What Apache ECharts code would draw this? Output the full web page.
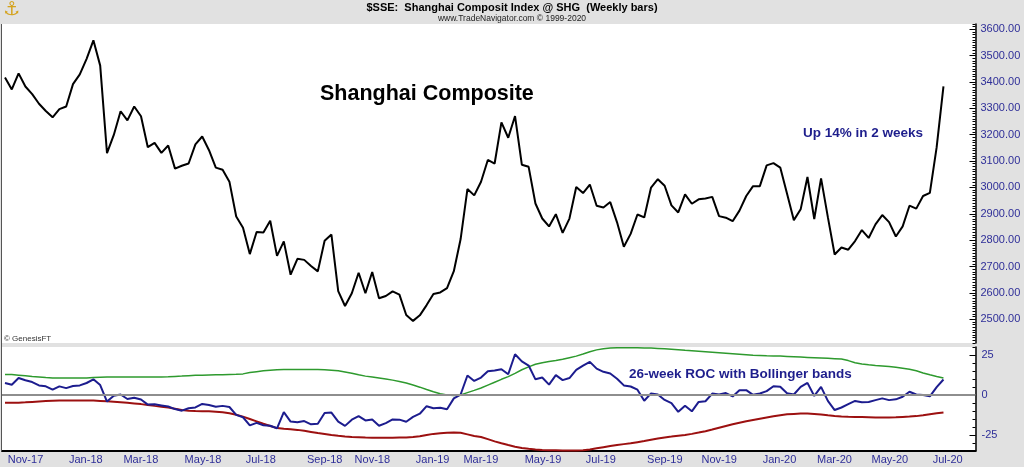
<!DOCTYPE html>
<html><head><meta charset="utf-8">
<script src="https://cdn.jsdelivr.net/npm/echarts@6/dist/echarts.min.js"></script>
<style>html,body{margin:0;padding:0;background:#e1e1e1;}#c{width:1024px;height:467px;}</style>
</head><body><div id="c"></div>
<script>
const weeks = ['2017-10-27','2017-11-03','2017-11-10','2017-11-17','2017-11-24','2017-12-01','2017-12-08','2017-12-15','2017-12-22','2017-12-29',
'2018-01-05','2018-01-12','2018-01-19','2018-01-26','2018-02-02','2018-02-09','2018-02-16','2018-02-23','2018-03-02','2018-03-09',
'2018-03-16','2018-03-23','2018-03-30','2018-04-06','2018-04-13','2018-04-20','2018-04-27','2018-05-04','2018-05-11','2018-05-18',
'2018-05-25','2018-06-01','2018-06-08','2018-06-15','2018-06-22','2018-06-29','2018-07-06','2018-07-13','2018-07-20','2018-07-27',
'2018-08-03','2018-08-10','2018-08-17','2018-08-24','2018-08-31','2018-09-07','2018-09-14','2018-09-21','2018-09-28','2018-10-12',
'2018-10-19','2018-10-26','2018-11-02','2018-11-09','2018-11-16','2018-11-23','2018-11-30','2018-12-07','2018-12-14','2018-12-21',
'2018-12-28','2019-01-04','2019-01-11','2019-01-18','2019-01-25','2019-02-01','2019-02-15','2019-02-22','2019-03-01','2019-03-08',
'2019-03-15','2019-03-22','2019-03-29','2019-04-05','2019-04-12','2019-04-19','2019-04-26','2019-05-03','2019-05-10','2019-05-17',
'2019-05-24','2019-05-31','2019-06-07','2019-06-14','2019-06-21','2019-06-28','2019-07-05','2019-07-12','2019-07-19','2019-07-26',
'2019-08-02','2019-08-09','2019-08-16','2019-08-23','2019-08-30','2019-09-06','2019-09-13','2019-09-20','2019-09-27','2019-10-04',
'2019-10-11','2019-10-18','2019-10-25','2019-11-01','2019-11-08','2019-11-15','2019-11-22','2019-11-29','2019-12-06','2019-12-13',
'2019-12-20','2019-12-27','2020-01-03','2020-01-10','2020-01-17','2020-01-24','2020-02-07','2020-02-14','2020-02-21','2020-02-28',
'2020-03-06','2020-03-13','2020-03-20','2020-03-27','2020-04-03','2020-04-10','2020-04-17','2020-04-24','2020-05-01','2020-05-08',
'2020-05-15','2020-05-22','2020-05-29','2020-06-05','2020-06-12','2020-06-19','2020-06-26','2020-07-03','2020-07-10'];

const closes = [3416.8,3371.7,3432.7,3382.9,3353.8,3317.6,3289.9,3266.1,3297.1,3307.2,
3391.8,3428.9,3487.9,3558.1,3462.1,3129.9,3199.2,3289.0,3254.5,3307.2,
3269.9,3152.8,3168.9,3131.1,3159.1,3071.5,3082.2,3091.0,3163.3,3193.3,
3141.3,3075.1,3067.1,3021.9,2889.8,2847.4,2747.2,2831.2,2829.3,2873.6,
2740.4,2795.3,2669.0,2729.4,2725.3,2702.3,2681.6,2797.5,2821.4,2606.9,
2550.5,2598.9,2676.5,2598.9,2679.1,2579.5,2588.2,2605.9,2593.7,2516.3,
2493.9,2514.9,2553.8,2596.0,2601.7,2618.2,2682.4,2804.2,2994.0,2969.9,
3021.8,3104.2,3090.8,3246.6,3188.6,3270.8,3086.4,3078.3,2939.2,2882.3,
2852.0,2898.7,2827.8,2882.0,3002.0,2978.9,3011.1,2930.6,2924.2,2944.5,
2867.8,2774.8,2823.8,2897.4,2886.2,2999.6,3031.2,3006.5,2932.2,2905.2,
2973.7,2938.1,2954.9,2958.2,2964.2,2891.3,2885.3,2872.0,2912.0,2967.7,
3004.9,3005.0,3083.8,3092.3,3075.5,2976.5,2876.0,2917.0,3039.7,2880.3,
3034.5,2887.4,2745.6,2772.2,2764.0,2796.6,2838.5,2808.5,2860.1,2895.3,
2868.5,2813.8,2852.4,2930.8,2919.7,2967.6,2979.6,3152.8,3383.3];

const roc = [7.5,6.4,10.6,9.2,8.1,6.0,5.4,3.3,5.4,4.3,
5.6,6.0,7.5,9.8,6.2,-4.1,-0.5,0.3,-2.5,-1.7,
-2.8,-6.0,-5.8,-6.5,-7.2,-8.8,-9.8,-8.3,-7.8,-5.6,
-6.3,-7.3,-6.8,-7.5,-12.4,-13.9,-19.0,-17.4,-18.9,-19.2,
-20.8,-10.7,-16.6,-17.0,-16.3,-18.3,-18.0,-11.3,-11.0,-16.7,
-19.3,-15.4,-13.2,-15.9,-15.3,-19.2,-17.6,-15.3,-15.4,-16.7,
-13.7,-11.7,-7.0,-8.3,-8.0,-8.9,-2.1,0.3,12.2,8.8,
10.9,14.9,15.3,16.1,13.0,25.5,21.0,18.4,9.8,10.9,
6.5,12.4,9.3,10.6,15.7,18.4,20.7,16.5,14.5,13.4,
10.2,6.0,5.3,3.3,-3.6,1.0,0.3,-3.1,-5.1,-10.5,
-6.7,-10.2,-4.3,-3.9,0.9,0.3,1.2,-0.9,3.0,3.0,
0.1,0.9,2.4,5.5,5.2,1.1,0.3,5.1,7.6,-0.6,
5.1,-3.7,-9.4,-7.8,-5.7,-3.7,-4.5,-4.4,-3.2,-2.1,
-3.2,-2.7,-1.1,2.0,0.3,0.0,-0.8,4.9,9.7];

const upperBand = [12.8,12.8,12.4,12.0,11.5,11.2,10.9,10.7,10.6,10.6,
10.6,10.6,10.7,10.9,11.1,11.3,11.3,11.3,11.3,11.3,
11.3,11.3,11.3,11.3,11.4,11.6,11.8,12.1,12.3,12.4,
12.5,12.6,12.7,12.8,12.9,13.2,14.0,14.6,15.1,15.5,
15.8,15.9,15.9,15.9,15.9,15.9,15.9,15.8,15.5,15.1,
14.4,13.6,12.6,11.8,11.2,10.6,10.0,9.3,8.5,7.5,
6.2,4.9,3.4,2.0,0.8,0.0,-0.3,0.1,1.5,2.9,
4.4,6.2,8.0,9.8,11.5,13.5,15.8,17.6,19.2,20.2,
20.9,21.5,22.3,23.3,24.3,25.6,27.0,28.2,28.9,29.3,
29.5,29.6,29.6,29.5,29.4,29.3,29.1,28.9,28.6,28.3,
27.9,27.6,27.3,27.0,26.7,26.4,26.1,25.8,25.5,25.2,
24.9,24.7,24.5,24.4,24.3,24.1,23.9,23.7,23.5,23.3,
23.1,22.9,22.7,22.5,21.5,20.2,19.4,18.9,18.5,18.2,
17.8,17.3,16.7,16.1,15.2,13.8,12.6,11.5,10.6];

const lowerBand = [-4.9,-4.9,-4.8,-4.6,-4.3,-4.0,-3.8,-3.6,-3.5,-3.5,
-3.5,-3.5,-3.5,-3.5,-3.7,-3.9,-4.2,-4.5,-4.9,-5.3,
-5.7,-6.2,-6.8,-7.3,-7.8,-8.6,-9.4,-9.8,-10.0,-10.1,
-10.2,-10.4,-10.8,-11.4,-12.3,-13.5,-15.0,-16.5,-18.0,-19.4,
-20.7,-21.1,-21.4,-21.8,-22.4,-23.1,-23.8,-24.4,-25.0,-25.5,
-25.9,-26.2,-26.4,-26.6,-26.7,-26.7,-26.7,-26.7,-26.6,-26.5,
-26.3,-25.8,-25.0,-24.3,-23.9,-23.6,-23.4,-23.6,-24.6,-25.6,
-26.3,-27.6,-29.0,-30.2,-31.3,-32.3,-33.1,-33.6,-34.0,-34.3,
-34.5,-34.6,-34.7,-34.7,-34.7,-34.5,-34.0,-33.3,-32.6,-31.9,
-31.3,-30.7,-30.2,-29.5,-28.8,-28.0,-27.2,-26.5,-26.0,-25.4,
-25.0,-24.3,-23.5,-22.6,-21.6,-20.5,-19.4,-18.3,-17.3,-16.4,
-15.6,-14.8,-14.0,-13.3,-12.6,-12.1,-11.8,-11.6,-11.6,-11.8,
-12.2,-12.7,-13.1,-13.4,-13.6,-13.7,-13.8,-13.9,-14.0,-14.0,
-14.0,-13.9,-13.7,-13.5,-13.2,-12.7,-12.0,-11.4,-10.9];

const MONTHS = ['Jan','Feb','Mar','Apr','May','Jun','Jul','Aug','Sep','Oct','Nov','Dec'];

const labelIdx = [];
weeks.forEach((d, i) => {
  if (i === 0) return;
  const m = +d.slice(5, 7), pm = +weeks[i - 1].slice(5, 7);
  if (m !== pm && m % 2 === 1) labelIdx.push(i);
});
function lbl(v) {
  const d = weeks[Math.round(v)];
  if (!d) return '';
  return MONTHS[+d.slice(5, 7) - 1] + '-' + d.slice(2, 4);
}
const pairs = arr => arr.map((v, i) => [i, v]);

const FONT = 'Liberation Sans';
const AX_BLUE = '#2e2e98';
const NAVY = '#1e1e8c';
const GL = 2, GW = 973.5;

// price panel: 2410..3620 over 319px
const P_TOP = 24, P_H = 319, P_MIN = 2410, P_MAX = 3620;
const pY = v => P_TOP + (P_MAX - v) * P_H / (P_MAX - P_MIN);
// ROC panel: -35..30 over 104px
const R_TOP = 347, R_H = 104, R_MIN = -35, R_MAX = 30;
const rY = v => R_TOP + (R_MAX - v) * R_H / (R_MAX - R_MIN);

const chart = echarts.init(document.getElementById('c'), null, {renderer: 'canvas'});
const xCommon = {type: 'value', min: -0.44, max: 142.71, splitLine: {show: false}};
const tickGridX = i => Object.assign({}, xCommon, {gridIndex: i, show: false});

chart.setOption({
  animation: false,
  backgroundColor: '#e1e1e1',
  textStyle: {fontFamily: FONT},
  grid: [
    {left: GL, top: P_TOP, width: GW, height: P_H, show: true, backgroundColor: '#ffffff', borderWidth: 0},
    {left: GL, top: R_TOP, width: GW, height: R_H, show: true, backgroundColor: '#ffffff', borderWidth: 0},
    // label / major-tick overlays on the same pixel scales
    {left: GL, top: pY(3600), width: GW, height: pY(2500) - pY(3600), show: false},
    {left: GL, top: rY(25), width: GW, height: rY(-25) - rY(25), show: false}
  ],
  xAxis: [
    Object.assign({}, xCommon, {gridIndex: 0, show: false}),
    Object.assign({}, xCommon, {
      gridIndex: 1,
      axisLine: {show: true, onZero: false, lineStyle: {color: '#000', width: 2}},
      axisTick: {show: false},
      axisLabel: {customValues: labelIdx, formatter: lbl, color: AX_BLUE, fontSize: 11, fontFamily: FONT,
                  align: 'left', padding: [0, 0, 0, -4], margin: 3}
    }),
    tickGridX(2),
    tickGridX(3)
  ],
  yAxis: [
    {type: 'value', gridIndex: 0, position: 'right', min: P_MIN, max: P_MAX, interval: 10,
     axisLine: {show: true, onZero: false, lineStyle: {color: '#000', width: 1.5}},
     axisTick: {show: true, inside: true, length: 3, lineStyle: {color: '#000', width: 1}},
     axisLabel: {show: false}, splitLine: {show: false}},
    {type: 'value', gridIndex: 1, position: 'right', min: R_MIN, max: R_MAX, interval: 5,
     axisLine: {show: true, onZero: false, lineStyle: {color: '#000', width: 1.5}},
     axisTick: {show: true, inside: true, length: 3, lineStyle: {color: '#000', width: 1}},
     axisLabel: {show: false}, splitLine: {show: false}},
    {type: 'value', gridIndex: 2, position: 'right', min: 2500, max: 3600, interval: 100,
     axisLine: {show: false, onZero: false},
     axisTick: {show: true, inside: true, length: 6, lineStyle: {color: '#000', width: 1}},
     axisLabel: {formatter: v => v.toFixed(2), color: AX_BLUE, fontSize: 11, fontFamily: FONT, margin: 5},
     splitLine: {show: false}},
    {type: 'value', gridIndex: 3, position: 'right', min: -25, max: 25, interval: 25,
     axisLine: {show: false, onZero: false},
     axisTick: {show: true, inside: true, length: 6, lineStyle: {color: '#000', width: 1}},
     axisLabel: {color: AX_BLUE, fontSize: 11, fontFamily: FONT, margin: 6},
     splitLine: {show: false}}
  ],
  series: [
    {name: 'zero', type: 'line', xAxisIndex: 1, yAxisIndex: 1, data: [], z: 1,
     markLine: {silent: true, symbol: 'none', label: {show: false},
                lineStyle: {color: '#8e8e8e', width: 2, type: 'solid'}, data: [{yAxis: 0}]}},
    {name: 'Upper band', type: 'line', xAxisIndex: 1, yAxisIndex: 1, data: pairs(upperBand),
     showSymbol: false, lineStyle: {color: '#2e9a2e', width: 1.5}, z: 2},
    {name: 'Lower band', type: 'line', xAxisIndex: 1, yAxisIndex: 1, data: pairs(lowerBand),
     showSymbol: false, lineStyle: {color: '#9c1010', width: 2}, z: 2},
    {name: '26-week ROC', type: 'line', xAxisIndex: 1, yAxisIndex: 1, data: pairs(roc),
     showSymbol: false, lineStyle: {color: '#1c1c8e', width: 2}, z: 3},
    {name: 'Shanghai Composite', type: 'line', xAxisIndex: 0, yAxisIndex: 0, data: pairs(closes),
     showSymbol: false, lineStyle: {color: '#000000', width: 2}, z: 3}
  ],
  graphic: [
    {type: 'line', shape: {x1: 1.5, y1: 24, x2: 1.5, y2: 451}, style: {stroke: '#555', lineWidth: 1}, z: 5},
    {type: 'text', x: 3, y: 1, style: {text: '\u2693', fontSize: 19, fill: '#d4a21c', fontFamily: 'DejaVu Sans'}, z: 5},
    {type: 'text', x: 512, y: 8, style: {text: '$SSE:  Shanghai Composit Index @ SHG  (Weekly bars)', font: 'bold 11px "Liberation Sans"', fill: '#000', align: 'center', verticalAlign: 'middle'}, z: 5},
    {type: 'text', x: 512, y: 18.5, style: {text: 'www.TradeNavigator.com \u00a9 1999-2020', font: '8.5px "Liberation Sans"', fill: '#222', align: 'center', verticalAlign: 'middle'}, z: 5},
    {type: 'text', x: 320, y: 94, style: {text: 'Shanghai Composite', font: 'bold 21.5px "Liberation Sans"', fill: '#000', align: 'left', verticalAlign: 'middle'}, z: 5},
    {type: 'text', x: 803, y: 133, style: {text: 'Up 14% in 2 weeks', font: 'bold 13.5px "Liberation Sans"', fill: NAVY, align: 'left', verticalAlign: 'middle'}, z: 5},
    {type: 'text', x: 629, y: 374, style: {text: '26-week ROC with Bollinger bands', font: 'bold 13.5px "Liberation Sans"', fill: NAVY, align: 'left', verticalAlign: 'middle'}, z: 5},
    {type: 'text', x: 4, y: 339, style: {text: '\u00a9 GenesisFT', font: '8px "Liberation Sans"', fill: '#333', align: 'left', verticalAlign: 'middle'}, z: 5}
  ]
});
</script></body></html>
